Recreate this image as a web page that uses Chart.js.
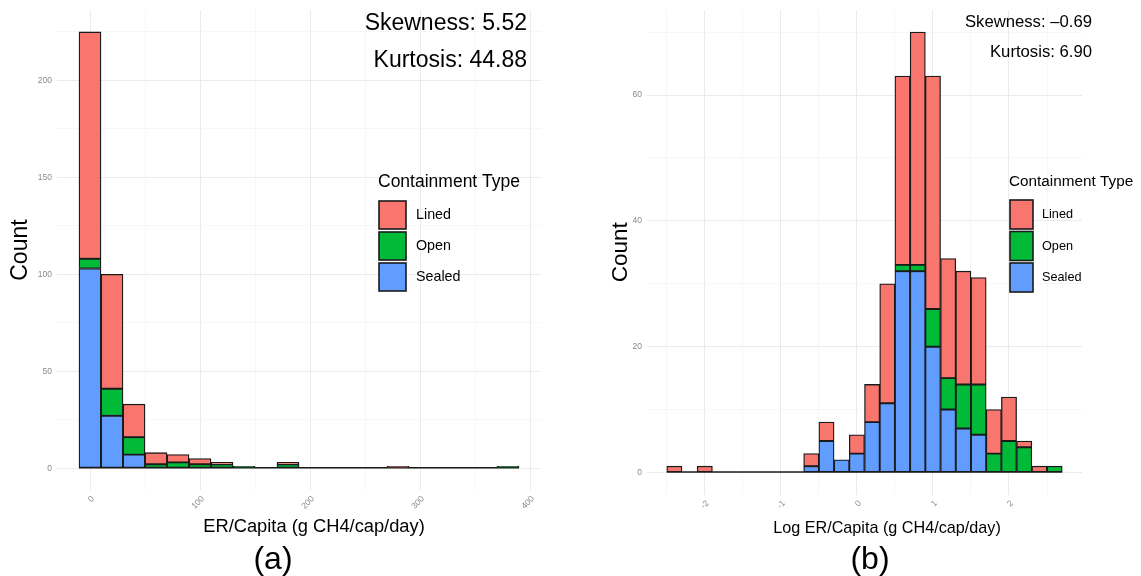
<!DOCTYPE html>
<html>
<head>
<meta charset="utf-8">
<script src="https://cdn.jsdelivr.net/npm/chart.js@4.4.1/dist/chart.umd.min.js"></script>
<style>
  body { margin: 0; background: #fff; width: 1141px; height: 576px; overflow: hidden; position: relative; }
  canvas { position: absolute; top: 0; }
  #chartA { left: 0; }
  #chartB { left: 570px; }
</style>
</head>
<body>
<canvas id="chartA" width="570" height="576"></canvas>
<canvas id="chartB" width="571" height="576"></canvas>
<script>
// (a) ER/Capita, bins of 20 g CH4/cap/day (bin centres)
const binsA = [0, 20, 40, 60, 80, 100, 120, 140, 160, 180, 200, 220, 240, 260, 280, 300, 320, 340, 360, 380];
const sealedA = [103, 27, 7, 0, 0, 0, 0, 0, 0, 0, 0, 0, 0, 0, 0, 0, 0, 0, 0, 0];
const openA   = [5, 14, 9, 2, 3, 2, 2, 1, 0, 2, 0, 0, 0, 0, 0, 0, 0, 0, 0, 1];
const linedA  = [117, 59, 17, 6, 4, 3, 1, 0, 0, 1, 0, 0, 0, 0, 1, 0, 0, 0, 0, 0];

// (b) Log ER/Capita, bins of 0.2 (bin centres)
const binsB = [-2.4, -2.2, -2.0, -1.8, -1.6, -1.4, -1.2, -1.0, -0.8, -0.6, -0.4, -0.2, 0,
               0.2, 0.4, 0.6, 0.8, 1.0, 1.2, 1.4, 1.6, 1.8, 2.0, 2.2, 2.4, 2.6];
const sealedB = [0, 0, 0, 0, 0, 0, 0, 0, 0, 1, 5, 2, 3, 8, 11, 32, 32, 20, 10, 7, 6, 0, 0, 0, 0, 0];
const openB   = [0, 0, 0, 0, 0, 0, 0, 0, 0, 0, 0, 0, 0, 0, 0, 1, 1, 6, 5, 7, 8, 3, 5, 4, 0, 1];
const linedB  = [1, 0, 1, 0, 0, 0, 0, 0, 0, 2, 3, 0, 3, 6, 19, 30, 37, 37, 19, 18, 17, 7, 7, 1, 1, 0];

// axis ticks
const yTicksA = [0, 50, 100, 150, 200];
const xTicksA = [0, 100, 200, 300, 400];
const yTicksB = [0, 20, 40, 60];
const xTicksB = [-2, -1, 0, 1, 2];

const statsA = ['Skewness: 5.52', 'Kurtosis: 44.88'];
const statsB = ['Skewness: \u20130.69', 'Kurtosis: 6.90'];

const typeNames = ['Sealed', 'Open', 'Lined'];
const typeColors = ['#619CFF', '#00BA38', '#F8766D'];
const legendTitle = 'Containment Type';

const FONT = "'Liberation Sans', Arial, Helvetica, sans-serif";
const EDGE = '#1a1a1a';

function makeDatasets(bins, series) {
  return series.map((vals, i) => ({
    label: typeNames[i],
    data: bins.map((x, j) => ({ x: x, y: vals[j] })),
    backgroundColor: typeColors[i],
    borderColor: EDGE,
    borderWidth: 1.3,
    borderSkipped: false,
    barPercentage: 1,
    categoryPercentage: 1
  }));
}

function near(list, v) {
  return list.some(t => Math.abs(t - v) < 1e-6);
}

// baseline under empty bins + stats, legend, x title and panel tag
const panelText = {
  id: 'panelText',
  beforeDatasetsDraw(chart, args, opts) {
    const xs = chart.scales.x, ys = chart.scales.y;
    const bins = opts.bins;
    const half = (bins[1] - bins[0]) / 2;
    const ctx = chart.ctx;
    ctx.save();
    ctx.strokeStyle = EDGE;
    ctx.lineWidth = 1.5;
    ctx.beginPath();
    ctx.moveTo(xs.getPixelForValue(bins[0] - half), ys.getPixelForValue(0) - 0.5);
    ctx.lineTo(xs.getPixelForValue(bins[bins.length - 1] + half), ys.getPixelForValue(0) - 0.5);
    ctx.stroke();
    ctx.restore();
  },
  afterDraw(chart, args, opts) {
    const ctx = chart.ctx;
    ctx.save();
    ctx.fillStyle = '#000';
    ctx.textBaseline = 'middle';

    ctx.font = opts.statSize + 'px ' + FONT;
    ctx.textAlign = 'right';
    opts.stats.forEach((s, i) => ctx.fillText(s, opts.statX, opts.statY[i]));

    const lg = opts.legend;
    ctx.textAlign = 'left';
    ctx.font = lg.titleSize + 'px ' + FONT;
    ctx.fillText(legendTitle, lg.x - 1, lg.titleY);
    ctx.font = lg.labelSize + 'px ' + FONT;
    const ds = chart.data.datasets.slice().reverse();
    ds.forEach((d, i) => {
      const top = lg.y + i * (lg.h + lg.gap);
      ctx.fillStyle = d.backgroundColor;
      ctx.fillRect(lg.x, top, lg.w, lg.h);
      ctx.strokeStyle = EDGE;
      ctx.lineWidth = 1.6;
      ctx.strokeRect(lg.x, top, lg.w, lg.h);
      ctx.fillStyle = '#000';
      ctx.fillText(d.label, lg.x + lg.w + lg.textGap, top + lg.h / 2);
    });

    ctx.textAlign = 'center';
    ctx.font = opts.xTitle.size + 'px ' + FONT;
    ctx.fillText(opts.xTitle.text, opts.xTitle.x, opts.xTitle.y);
    ctx.font = opts.tag.size + 'px ' + FONT;
    ctx.fillText(opts.tag.text, opts.tag.x, opts.tag.y);
    ctx.restore();
  }
};

function histOptions(cfg) {
  return {
    responsive: false,
    animation: false,
    layout: { padding: cfg.padding },
    scales: {
      x: {
        type: 'linear',
        stacked: true,
        offset: false,
        min: cfg.xMin,
        max: cfg.xMax,
        afterFit: s => { s.height = cfg.xHeight; },
        border: { display: false },
        grid: {
          offset: false,
          drawTicks: false,
          color: c => near(cfg.xTicks, c.tick.value) ? '#ebebeb' : '#f4f4f4',
          lineWidth: c => near(cfg.xTicks, c.tick.value) ? 1 : 0.7
        },
        ticks: {
          stepSize: cfg.xStep,
          includeBounds: false,
          autoSkip: false,
          minRotation: 45,
          maxRotation: 45,
          padding: 4,
          labelOffset: 3,
          color: '#8a8a8a',
          font: { family: FONT, size: 8.5 },
          callback: v => near(cfg.xTicks, v) ? String(Math.round(v)) : ''
        }
      },
      y: {
        stacked: true,
        min: cfg.yMin,
        max: cfg.yMax,
        afterFit: s => { s.width = cfg.yWidth; },
        border: { display: false },
        grid: {
          drawTicks: false,
          color: c => near(cfg.yTicks, c.tick.value) ? '#ebebeb' : '#f4f4f4',
          lineWidth: c => near(cfg.yTicks, c.tick.value) ? 1 : 0.7
        },
        ticks: {
          stepSize: cfg.yStep,
          includeBounds: false,
          padding: 5,
          color: '#8a8a8a',
          font: { family: FONT, size: 8.5 },
          callback: v => near(cfg.yTicks, v) ? String(v) : ''
        },
        title: {
          display: true,
          text: 'Count',
          color: '#000',
          padding: { top: cfg.yTitlePad, bottom: 0 },
          font: { family: FONT, size: cfg.yTitleSize }
        }
      }
    },
    plugins: {
      legend: { display: false },
      tooltip: { enabled: false },
      panelText: cfg.text
    }
  };
}

new Chart(document.getElementById('chartA'), {
  type: 'bar',
  data: { datasets: makeDatasets(binsA, [sealedA, openA, linedA]) },
  options: histOptions({
    padding: { top: 7, right: 29, left: 0, bottom: 0 },
    xMin: -30, xMax: 410, xStep: 50, xTicks: xTicksA, xHeight: 86,
    yMin: -11.25, yMax: 236.25, yStep: 25, yTicks: yTicksA, yWidth: 57,
    yTitlePad: 6.5, yTitleSize: 23,
    text: {
      bins: binsA,
      stats: statsA, statSize: 23, statX: 527, statY: [24, 61],
      legend: { x: 379, y: 201, w: 27, h: 28, gap: 3, textGap: 10, titleY: 182, titleSize: 17.5, labelSize: 14.3 },
      xTitle: { text: 'ER/Capita (g CH4/cap/day)', x: 314, y: 527, size: 18.3 },
      tag: { text: '(a)', x: 273, y: 560, size: 32 }
    }
  }),
  plugins: [panelText]
});

new Chart(document.getElementById('chartB'), {
  type: 'bar',
  data: { datasets: makeDatasets(binsB, [sealedB, openB, linedB]) },
  options: histOptions({
    padding: { top: 8, right: 59, left: 0, bottom: 0 },
    xMin: -2.76, xMax: 2.96, xStep: 0.5, xTicks: xTicksB, xHeight: 81.5,
    yMin: -3.5, yMax: 73.5, yStep: 10, yTicks: yTicksB, yWidth: 77,
    yTitlePad: 37, yTitleSize: 22.5,
    text: {
      bins: binsB,
      stats: statsB, statSize: 16.7, statX: 522, statY: [22, 52],
      legend: { x: 440, y: 200, w: 23, h: 29, gap: 2.5, textGap: 9, titleY: 182, titleSize: 15.3, labelSize: 12.7 },
      xTitle: { text: 'Log ER/Capita (g CH4/cap/day)', x: 317, y: 529, size: 16.2 },
      tag: { text: '(b)', x: 300, y: 560, size: 32 }
    }
  }),
  plugins: [panelText]
});
</script>
</body>
</html>
